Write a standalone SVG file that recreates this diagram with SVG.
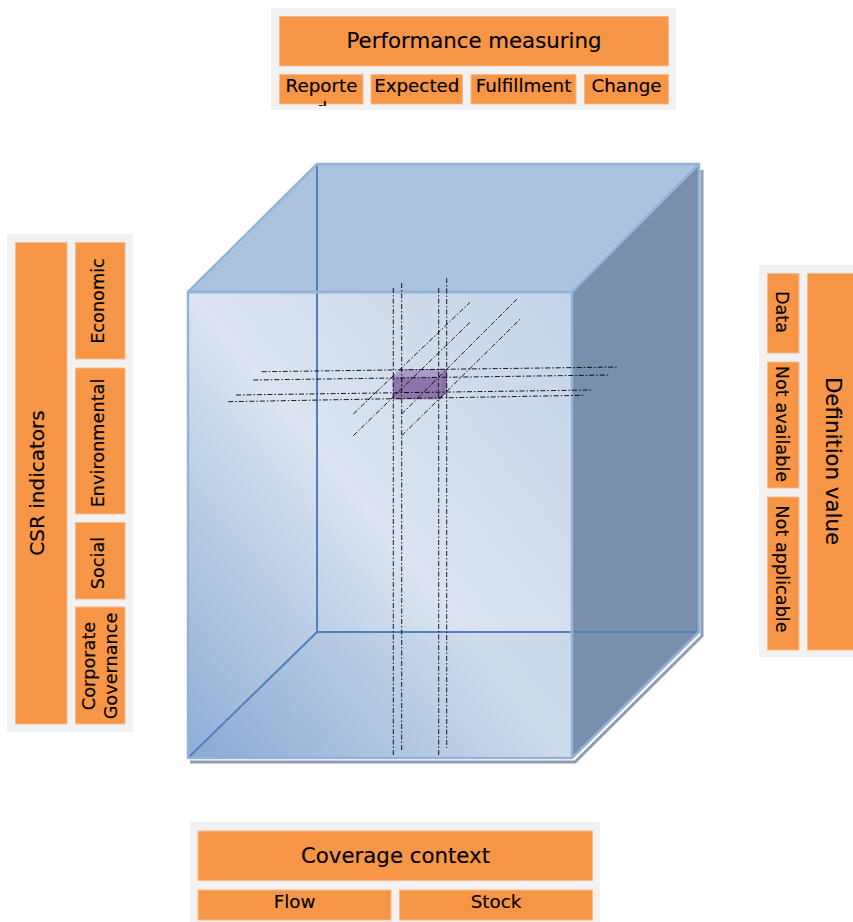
<svg xmlns="http://www.w3.org/2000/svg" width="853" height="922" viewBox="0 0 853 922">
<defs>
<style>
.bg{fill:#f2f2f2}
.cell{fill:#f79646;stroke:#fab98b;stroke-width:1}
.t{font-family:"DejaVu Sans","Liberation Sans",sans-serif;fill:#000;text-anchor:middle;stroke:#000;stroke-width:0.15}
.h{font-size:21.3px}
.h2{font-size:21.3px}
.hc{font-size:20px}
.s{font-size:18.3px}
.s2{font-size:17.7px}
.dd{fill:none;stroke:#000;stroke-width:0.9;stroke-dasharray:5 2 1.5 2}
.edge{fill:none;stroke:#95b3d7;stroke-width:2.5;stroke-linejoin:round}
.inner{fill:none;stroke:#4f81bd;stroke-width:2}
</style>
<linearGradient id="front" x1="0" y1="1" x2="1" y2="0">
<stop offset="0" stop-color="#8fadd6"/>
<stop offset="0.5" stop-color="#dbe4f0"/>
<stop offset="1" stop-color="#c4d3e8"/>
</linearGradient>
<clipPath id="repClip"><rect x="279" y="74" width="84" height="32"/></clipPath>
</defs>

<g id="cube">
<path d="M190,762 L575,762 L702,636 L702,170" fill="none" stroke="#8e9cb2" stroke-width="3"/>
<polygon points="188,292 572,292 572,758 188,758" fill="url(#front)"/>
<polygon points="188,758 317,632 572,632 572,758" fill="#4f81bd" opacity="0.08"/>
<polygon points="188,292 317,164 699,164 572,292" fill="#abc2e0"/>
<polygon points="572,292 699,164 699,632 572,758" fill="#7a8fad"/>
<line class="inner" x1="317" y1="164" x2="317" y2="632"/>
<line class="inner" x1="317" y1="632" x2="699" y2="632"/>
<line class="inner" x1="317" y1="632" x2="188" y2="758"/>
<polygon class="edge" points="188,292 317,164 699,164 572,292"/>
<polygon class="edge" points="188,292 572,292 572,758 188,758"/>
<polyline class="edge" points="572,758 699,632 699,164"/>
</g>

<g id="cell-marker">
<polygon points="393,377 402,369 447,369 440,377" fill="#a38ec2" opacity="0.85"/>
<polygon points="440,377 447,369 447,393 440,399" fill="#7a5e9e" opacity="0.85"/>
<rect x="393" y="377" width="47" height="22" fill="#8064a2" opacity="0.85" stroke="#a48fc2" stroke-width="1"/>
</g>

<g id="connectors">
<line class="dd" x1="393.3" y1="288" x2="393.3" y2="757"/>
<line class="dd" x1="401.7" y1="283" x2="401.7" y2="752"/>
<line class="dd" x1="438.7" y1="288" x2="438.7" y2="757"/>
<line class="dd" x1="446.7" y1="278" x2="446.7" y2="748"/>
<line class="dd" x1="261.7" y1="371.7" x2="618.3" y2="367"/>
<line class="dd" x1="253.3" y1="380" x2="608.3" y2="375"/>
<line class="dd" x1="236" y1="395" x2="591.7" y2="390"/>
<line class="dd" x1="228.3" y1="401.7" x2="583.3" y2="395.3"/>
<line class="dd" x1="353.3" y1="414" x2="470" y2="302.3"/>
<line class="dd" x1="353.3" y1="435.7" x2="470" y2="322.3"/>
<line class="dd" x1="401.7" y1="414" x2="516.7" y2="299.3"/>
<line class="dd" x1="401.7" y1="435.7" x2="520" y2="319.3"/>
</g>

<g id="performance-measuring">
<rect class="bg" x="271" y="8" width="405" height="102"/>
<rect class="cell" x="279.5" y="16.5" width="389" height="49.5"/>
<text class="t h" x="474" y="48">Performance measuring</text>
<rect class="cell" x="279.5" y="74.5" width="83.5" height="29.5"/>
<rect class="cell" x="371" y="74.5" width="91.5" height="29.5"/>
<rect class="cell" x="471" y="74.5" width="105" height="29.5"/>
<rect class="cell" x="584.5" y="74.5" width="84" height="29.5"/>
<g clip-path="url(#repClip)">
<text class="t s" x="321.5" y="92">Reporte</text>
<text class="t s" x="321.5" y="115">d</text>
</g>
<text class="t s" x="416.8" y="92">Expected</text>
<text class="t s" x="523.5" y="92">Fulfillment</text>
<text class="t s" x="626.5" y="92">Change</text>
</g>

<g id="csr-indicators">
<rect class="bg" x="7" y="234" width="126" height="498"/>
<rect class="cell" x="15.5" y="242.5" width="51.5" height="481.5"/>
<text class="t hc" transform="translate(44,483) rotate(-90)">CSR indicators</text>
<rect class="cell" x="75.5" y="242.5" width="49.5" height="116.5"/>
<rect class="cell" x="75.5" y="368" width="49.5" height="146"/>
<rect class="cell" x="75.5" y="522.5" width="49.5" height="76.5"/>
<rect class="cell" x="75.5" y="607" width="49.5" height="117"/>
<text class="t s2" transform="translate(104,301) rotate(-90)">Economic</text>
<text class="t s2" transform="translate(104,443) rotate(-90)">Environmental</text>
<text class="t s2" transform="translate(104,563) rotate(-90)">Social</text>
<text class="t s2" transform="translate(95,666) rotate(-90)">Corporate</text>
<text class="t s2" transform="translate(117,666) rotate(-90)">Governance</text>
</g>

<g id="definition-value">
<rect class="bg" x="759" y="265" width="94" height="392"/>
<rect class="cell" x="767.5" y="273.5" width="31.5" height="79.5"/>
<rect class="cell" x="767.5" y="362" width="31.5" height="126"/>
<rect class="cell" x="767.5" y="497" width="31.5" height="153"/>
<rect class="cell" x="807.5" y="273.5" width="46" height="376.5"/>
<text class="t s2" transform="translate(776,312) rotate(90)">Data</text>
<text class="t s2" transform="translate(776,424) rotate(90)">Not available</text>
<text class="t s2" transform="translate(776,569) rotate(90)">Not applicable</text>
<text class="t h2" transform="translate(826,461) rotate(90)">Definition value</text>
</g>

<g id="coverage-context">
<rect class="bg" x="190" y="822" width="410" height="100"/>
<rect class="cell" x="198" y="831" width="394.5" height="49.5"/>
<text class="t h2" x="395.5" y="863">Coverage context</text>
<rect class="cell" x="198" y="890" width="193" height="30"/>
<rect class="cell" x="399.5" y="890" width="193" height="30"/>
<text class="t s" x="294.5" y="908">Flow</text>
<text class="t s" x="496" y="908">Stock</text>
</g>
</svg>
